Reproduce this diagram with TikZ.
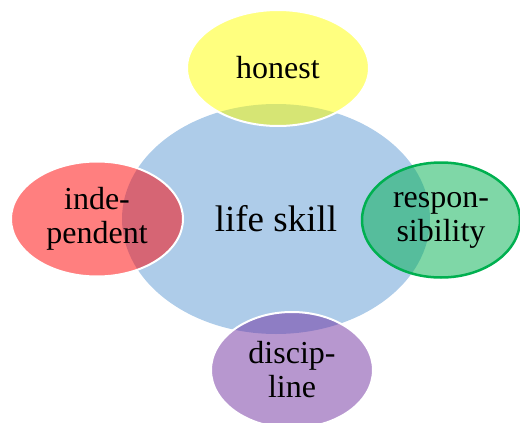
\documentclass[tikz,border=0pt]{standalone}
\usepackage{fontspec}
\setmainfont{Liberation Serif}
\usetikzlibrary{shapes.geometric}
\definecolor{cblue}{RGB}{174,204,233}
\definecolor{cyellow}{RGB}{255,255,0}
\definecolor{cred}{RGB}{255,0,0}
\definecolor{cgreen}{RGB}{0,176,80}
\definecolor{cpurple}{RGB}{112,48,160}
\tikzset{
  bubble/.style={ellipse, inner sep=0pt, align=center, fill opacity=0.5, text opacity=1,
    draw=white, line width=2pt, font=\fontsize{32}{34}\selectfont},
  hub/.style={ellipse, inner sep=0pt, align=center, fill=cblue, font=\fontsize{37}{40}\selectfont}
}
\begin{document}
\begin{tikzpicture}[x=1pt,y=-1pt]
\useasboundingbox (0,0) rectangle (520,423);
\node[hub, minimum width=308pt, minimum height=230pt] (hub) at (276,219) {life skill};
\node[bubble, fill=cyellow, minimum width=182pt, minimum height=116pt] (honest) at (278,68) {honest};
\node[bubble, fill=cred, minimum width=172pt, minimum height=115pt] (indep) at (97,219) {inde-\\pendent};
\node[bubble, fill=cgreen, draw=cgreen, line width=2.5pt, minimum width=158pt, minimum height=115pt] (resp) at (441,220) {respon-\\sibility};
\node[bubble, fill=cpurple, minimum width=162pt, minimum height=116pt] (disc) at (292,370) {discip-\\line};
\end{tikzpicture}
\end{document}
